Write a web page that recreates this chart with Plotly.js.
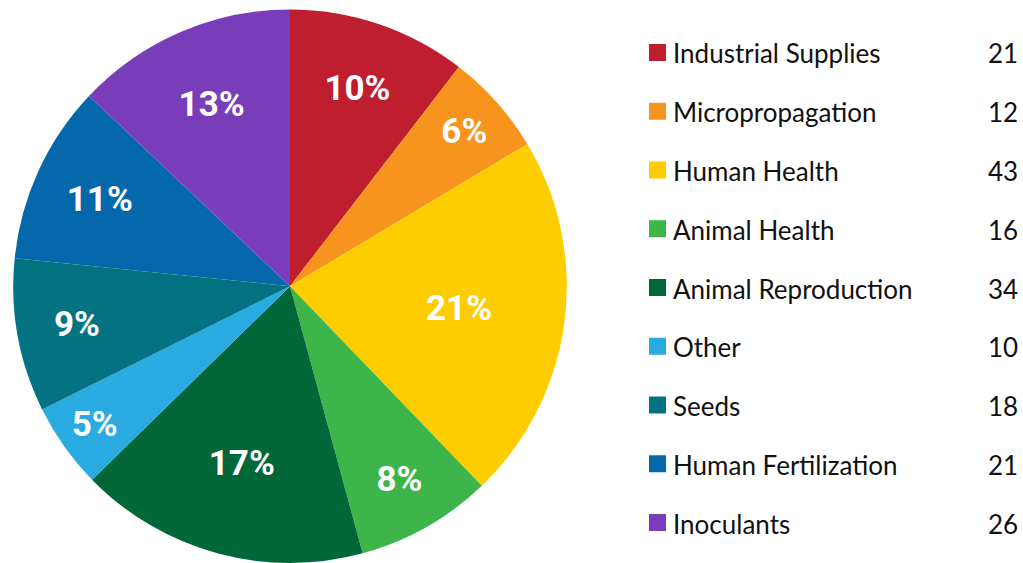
<!DOCTYPE html>
<html>
<head>
<meta charset="utf-8">
<script src="https://cdn.plot.ly/plotly-3.0.1.min.js"></script>
<style>html,body{margin:0;padding:0;background:#fff;}#chart{width:1023px;height:563px;}</style>
</head>
<body>
<div id="chart"></div>
<script>
const categories = ["Industrial Supplies","Micropropagation","Human Health","Animal Health","Animal Reproduction","Other","Seeds","Human Fertilization","Inoculants"];
const values = [21, 12, 43, 16, 34, 10, 18, 21, 26];
const pctLabels = ["10%","6%","21%","8%","17%","5%","9%","11%","13%"];
const colors = ["#BE1E2D","#F7941D","#FDCD00","#3DB54A","#006838","#29ABE2","#037382","#0568AB","#7A3DBA"];

const W = 1023, H = 563;
const cx = 290, cy = 286.5, r = 277;

const trace = {
  type: 'pie',
  labels: categories,
  values: values,
  text: pctLabels,
  textinfo: 'text',
  textposition: 'inside',
  insidetextorientation: 'horizontal',
  insidetextfont: {family: 'Roboto, "Liberation Sans", Arial, sans-serif', size: 35, color: '#ffffff', weight: 'bold'},
  marker: {colors: colors, line: {width: 0}},
  sort: false,
  direction: 'clockwise',
  rotation: 0,
  hoverinfo: 'label+value+percent',
  domain: {x: [(cx - r) / W, (cx + r) / W], y: [1 - (cy + r) / H, 1 - (cy - r) / H]}
};

const shapes = [];
const annotations = [];
const rowTop = 52.5, rowGap = 58.75;
const legendFont = {family: 'Lato, "Open Sans", sans-serif', size: 26, color: '#111111'};
categories.forEach((c, i) => {
  const yc = rowTop + i * rowGap;
  shapes.push({type: 'rect', xref: 'paper', yref: 'paper',
    x0: 649 / W, x1: 666 / W, y0: 1 - (yc + 8.5) / H, y1: 1 - (yc - 8.5) / H,
    fillcolor: colors[i], line: {width: 0}});
  annotations.push({xref: 'paper', yref: 'paper', x: 671 / W, y: 1 - (yc + 1) / H,
    xanchor: 'left', yanchor: 'middle', showarrow: false, text: c, font: legendFont});
  annotations.push({xref: 'paper', yref: 'paper', x: 1020 / W, y: 1 - (yc + 1) / H,
    xanchor: 'right', yanchor: 'middle', showarrow: false, text: String(values[i]), font: legendFont});
});

const layout = {
  width: W, height: H,
  margin: {l: 0, r: 0, t: 0, b: 0, pad: 0},
  paper_bgcolor: '#ffffff',
  showlegend: false,
  shapes: shapes,
  annotations: annotations
};

Plotly.newPlot('chart', [trace], layout, {displayModeBar: false, staticPlot: true});
</script>
</body>
</html>
